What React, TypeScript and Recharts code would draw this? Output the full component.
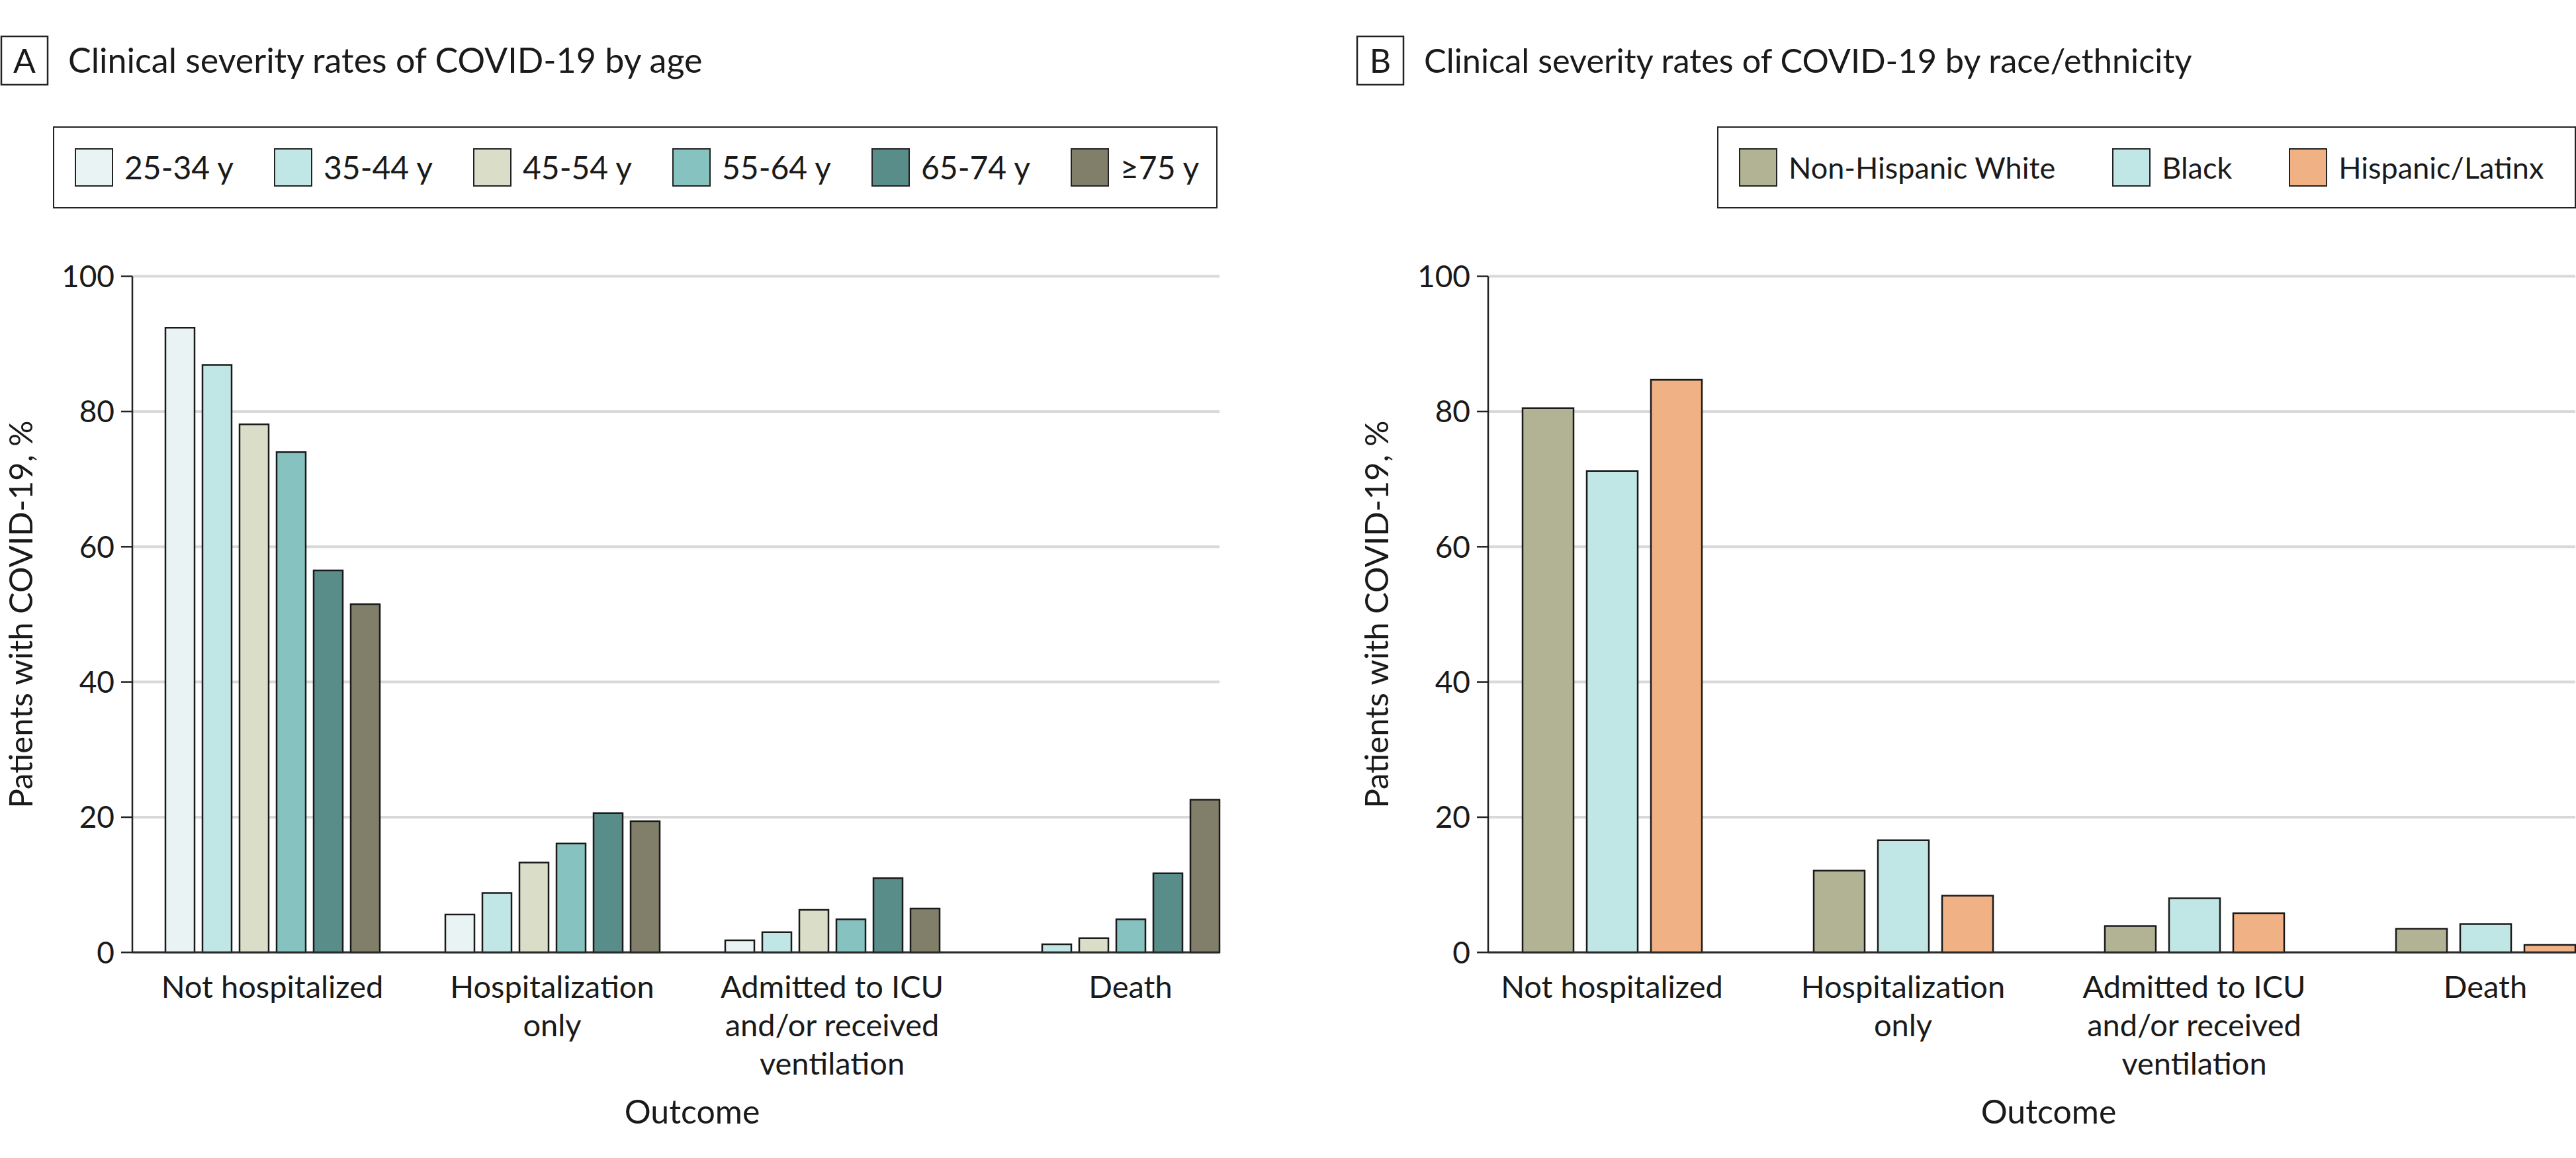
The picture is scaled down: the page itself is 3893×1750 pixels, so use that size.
import React from 'react';
import { BarChart, Bar, XAxis, YAxis, CartesianGrid } from 'recharts';

// categories
const outcomes = [
  'Not hospitalized',
  'Hospitalization only',
  'Admitted to ICU and/or received ventilation',
  'Death',
];
const outcomeLines = [
  ['Not hospitalized'],
  ['Hospitalization', 'only'],
  ['Admitted to ICU', 'and/or received', 'ventilation'],
  ['Death'],
];
const yTicks = [0, 20, 40, 60, 80, 100];

// panel A - by age (%)
const ageLabels = ['25-34 y', '35-44 y', '45-54 y', '55-64 y', '65-74 y', '≥75 y'];
const age25to34 = [92.4, 5.6, 1.8, 0];
const age35to44 = [86.9, 8.8, 3.0, 1.2];
const age45to54 = [78.1, 13.3, 6.3, 2.1];
const age55to64 = [74.0, 16.1, 4.9, 4.9];
const age65to74 = [56.5, 20.6, 11.0, 11.7];
const age75plus = [51.5, 19.4, 6.5, 22.6];
const ageColors = ['#eaf3f3', '#c0e6e5', '#dadec8', '#86c2c0', '#588d8a', '#817f69'];

// panel B - by race/ethnicity (%)
const raceLabels = ['Non-Hispanic White', 'Black', 'Hispanic/Latinx'];
const nonHispanicWhite = [80.5, 12.1, 3.9, 3.5];
const black = [71.2, 16.6, 8.0, 4.2];
const hispanicLatinx = [84.7, 8.4, 5.8, 1.1];
const raceColors = ['#b2b395', '#c0e6e5', '#f0b185'];

const FONT = "Lato, 'Open Sans', sans-serif";
const INK = '#1a1a1a';

const CHART_W = 1900;
const CHART_H = 1750;
const PLOT_TOP = 417.6;
const PLOT_BOTTOM = 1439.3;
const Y_AXIS_W = 120;
const MARGIN_LEFT = 80;
const PLOT_LEFT = MARGIN_LEFT + Y_AXIS_W;
const PLOT_RIGHT = 1843;
const X_AXIS_H = 250;

type PanelProps = {
  offsetX: number;
  letter: string;
  title: string;
  titleSize: number;
  labels: string[];
  values: number[][];
  colors: string[];
  barSize: number;
  barGap: number;
  padL: number;
  padR: number;
  legendLeft: number;
  legendWidth: number;
  legendItemWidth?: number;
  legendGap: number;
  legendFont: number;
};

function Panel(p: PanelProps) {
  const data = outcomes.map((o, i) => {
    const row: Record<string, any> = { outcome: o };
    p.values.forEach((v, s) => {
      row['s' + s] = v[i];
    });
    return row;
  });

  // when the first series has no bar, centre the label on the bars that are drawn
  const shift = outcomes.map((_, i) => (p.values[0][i] === 0 ? (p.barSize + p.barGap) / 2 : 0));

  const plotW = PLOT_RIGHT - PLOT_LEFT;
  const axisCenter = PLOT_LEFT + (p.padL + plotW - p.padR) / 2;

  const renderTick = (props: any) => {
    const { x, y, payload } = props;
    const idx = outcomes.indexOf(payload.value);
    const tx = x + shift[idx];
    return (
      <text x={tx} y={y + 69} textAnchor="middle" fontSize={47} fill={INK} fontFamily={FONT}>
        {outcomeLines[idx].map((line, j) => (
          <tspan key={j} x={tx} dy={j === 0 ? 0 : 58}>
            {line}
          </tspan>
        ))}
      </text>
    );
  };

  const yLabel = () => {
    const cy = (PLOT_TOP + PLOT_BOTTOM) / 2;
    return (
      <text
        x={49}
        y={cy}
        transform={`rotate(-90 49 ${cy})`}
        textAnchor="middle"
        fontSize={49}
        fill={INK}
        fontFamily={FONT}
      >
        Patients with COVID-19, %
      </text>
    );
  };

  const xLabel = () => (
    <text x={axisCenter} y={1698} textAnchor="middle" fontSize={50} fill={INK} fontFamily={FONT}>
      Outcome
    </text>
  );

  return (
    <div style={{ position: 'absolute', left: p.offsetX, top: 0, width: CHART_W, height: CHART_H }}>
      <div style={{ position: 'absolute', left: 0, top: 0 }}>
        <BarChart
          width={CHART_W}
          height={CHART_H}
          data={data}
          barGap={p.barGap}
          barSize={p.barSize}
          margin={{
            top: PLOT_TOP,
            right: CHART_W - PLOT_RIGHT,
            bottom: CHART_H - PLOT_BOTTOM - X_AXIS_H,
            left: MARGIN_LEFT,
          }}
        >
          <CartesianGrid vertical={false} stroke="#d9d9d9" strokeWidth={4} />
          <XAxis
            dataKey="outcome"
            type="category"
            height={X_AXIS_H}
            interval={0}
            tickLine={false}
            tickSize={0}
            tickMargin={0}
            padding={{ left: p.padL, right: p.padR }}
            axisLine={{ stroke: '#2a2a2a', strokeWidth: 3 }}
            tick={renderTick}
            label={xLabel}
          />
          <YAxis
            type="number"
            domain={[0, 100]}
            ticks={yTicks}
            interval={0}
            width={Y_AXIS_W}
            tickSize={17}
            tickMargin={10}
            axisLine={{ stroke: '#222', strokeWidth: 2.5 }}
            tickLine={{ stroke: '#222', strokeWidth: 2.5 }}
            tick={{ fontSize: 46, fill: INK, fontFamily: FONT }}
            label={yLabel}
          />
          {p.values.map((_, s) => (
            <Bar
              key={s}
              dataKey={'s' + s}
              name={p.labels[s]}
              fill={p.colors[s]}
              stroke={INK}
              strokeWidth={2.5}
              barSize={p.barSize}
              isAnimationActive={false}
            />
          ))}
        </BarChart>
      </div>

      <svg
        width={CHART_W}
        height={180}
        style={{ position: 'absolute', left: 0, top: 0, fontFamily: FONT }}
      >
        <rect x={2} y={55} width={70} height={73} fill="#fff" stroke="#222" strokeWidth={2.5} />
        <text x={37} y={110} textAnchor="middle" fontSize={50} fill={INK}>
          {p.letter}
        </text>
        <text x={103} y={110} fontSize={p.titleSize} fill={INK}>
          {p.title}
        </text>
      </svg>

      <div
        style={{
          position: 'absolute',
          left: p.legendLeft,
          top: 191,
          width: p.legendWidth,
          height: 124,
          boxSizing: 'border-box',
          border: '2.5px solid #222',
          display: 'flex',
          alignItems: 'center',
          paddingLeft: 31,
          gap: p.legendGap,
          fontFamily: FONT,
          background: '#fff',
        }}
      >
        {p.labels.map((name, s) => (
          <div
            key={name}
            style={{
              display: 'flex',
              alignItems: 'center',
              flex: 'none',
              width: p.legendItemWidth,
            }}
          >
            <div
              style={{
                width: 58,
                height: 58,
                boxSizing: 'border-box',
                background: p.colors[s],
                border: '2.5px solid #222',
              }}
            />
            <span
              style={{
                marginLeft: 17,
                fontSize: p.legendFont,
                lineHeight: 1,
                color: INK,
                whiteSpace: 'nowrap',
              }}
            >
              {name}
            </span>
          </div>
        ))}
      </div>
    </div>
  );
}

export default function App() {
  return (
    <div
      style={{
        position: 'absolute',
        left: 0,
        top: 0,
        width: 3893,
        height: 1750,
        overflow: 'hidden',
        background: '#fff',
        fontFamily: FONT,
      }}
    >
      <Panel
        offsetX={0}
        letter="A"
        title="Clinical severity rates of COVID-19 by age"
        titleSize={52}
        labels={ageLabels}
        values={[age25to34, age35to44, age45to54, age55to64, age65to74, age75plus]}
        colors={ageColors}
        barSize={44}
        barGap={12}
        padL={0}
        padR={-49}
        legendLeft={80}
        legendWidth={1760}
        legendItemWidth={301}
        legendGap={0}
        legendFont={48}
      />
      <Panel
        offsetX={2049}
        letter="B"
        title="Clinical severity rates of COVID-19 by race/ethnicity"
        titleSize={50.5}
        labels={raceLabels}
        values={[nonHispanicWhite, black, hispanicLatinx]}
        colors={raceColors}
        barSize={77}
        barGap={20}
        padL={-33}
        padR={-84}
        legendLeft={546}
        legendWidth={1298}
        legendGap={86}
        legendFont={45}
      />
    </div>
  );
}
